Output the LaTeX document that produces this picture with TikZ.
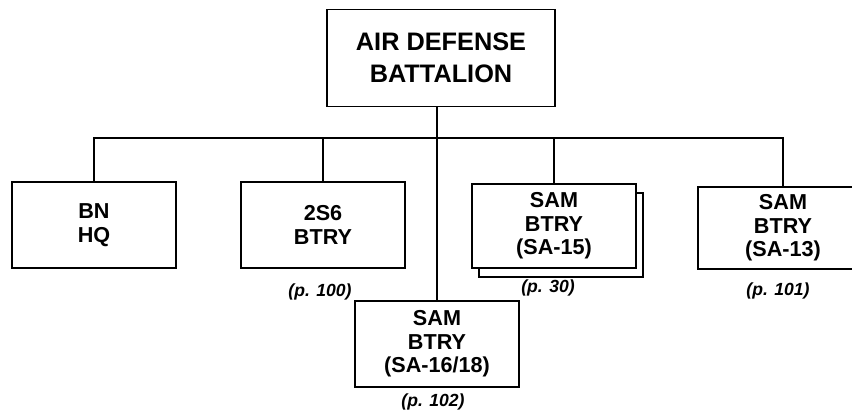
\documentclass[tikz,border=0pt]{standalone}
\usepackage{fontspec}
\setmainfont{Liberation Sans}
\begin{document}
\begin{tikzpicture}[x=0.02cm, y=-0.02cm, line width=1.1pt,
  unit/.style={draw, fill=white, minimum width=3.28cm, minimum height=1.72cm, inner sep=0pt, align=center, font=\fontsize{12.3}{13.4}\selectfont\bfseries},
  pageref/.style={font=\fontsize{10}{12}\selectfont\bfseries\itshape}]
  \useasboundingbox (0,0) rectangle (852,411);
  \node[draw, fill=white, minimum width=4.56cm, minimum height=1.94cm, inner sep=0pt, align=center, font=\fontsize{14.4}{18}\selectfont\bfseries] (adb) at (441,58) {AIR DEFENSE\\BATTALION};
  \node[unit] (hq) at (94,225) {BN\\HQ};
  \node[unit] (btry2s6) at (323,225) {2S6\\BTRY};
  \node[unit, minimum height=1.68cm] (sam15back) at (561,235) {};
  \node[unit, minimum height=1.68cm] (sam15) at (554,226) {SAM\\BTRY\\(SA-15)};
  \node[unit, minimum width=3.4cm, minimum height=1.64cm] (sam13) at (783,228) {SAM\\BTRY\\(SA-13)};
  \node[unit] (sam16) at (437,344) {SAM\\BTRY\\(SA-16/18)};
  % connectors
  \coordinate (bus) at (0,138);
  \draw (sam16.north |- adb.south) -- (sam16.north);
  \draw (hq.north) |- (sam13.north |- bus) -- (sam13.north);
  \draw (btry2s6.north) -- (btry2s6.north |- bus);
  \draw (sam15.north) -- (sam15.north |- bus);
  % page references
  \node[pageref] (ref2s6) at (320,292) {(p. 100)};
  \node[pageref] (ref15) at (548,288) {(p. 30)};
  \node[pageref] (ref13) at (778,291) {(p. 101)};
  \node[pageref] (ref16) at (433,402) {(p. 102)};
\end{tikzpicture}
\end{document}
